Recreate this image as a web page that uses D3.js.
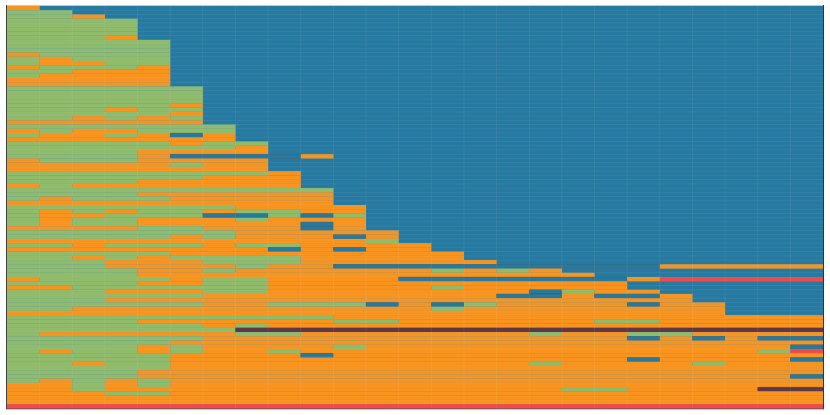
<!DOCTYPE html>
<html>
<head>
<meta charset="utf-8">
<script src="https://cdn.jsdelivr.net/npm/d3@7"></script>
<style>
  body { margin: 0; background: #fff; }
</style>
</head>
<body>
<svg id="chart" width="830" height="415"></svg>
<script>
// one letter per cell: B blue, G green, O orange, P plum, R red
// trailing blue cells are left off the strings
const columns = d3.range(25);
const stateColors = { B: '#2679a0', G: '#8fbb6a', O: '#f8941e', P: '#5e3649', R: '#f34848' };
const rowCodes = [
  "O", "GG", "GGO", "GGGG", "GGGG", "GGGG", "GGGG", "GGGO", "GGGGG", "GGGGG",
  "GGGGG", "OGGGG", "GOGGG", "GOOGG", "OGGGO", "GGOOO", "GOOOO", "OOOOO", "OOOOO", "GGGGGG",
  "GGGGGG", "GGGGGG", "GGGGGG", "GGGGGO", "GGGOGG", "GGGGGO", "GGOGOG", "OOOOOO", "GGGGGGG", "OGOOGGG",
  "GOOGOBO", "OOOOOOO", "GGGGGOGG", "GGGGGGGO", "GGGGOOOO", "GGGGOBBBBO", "OGGGOOOO", "OOOOOGOO", "OOOOOOOO", "GGGGGGGGO",
  "GGGGGGOOO", "GGGGOOOOO", "OGOOOOOOO", "GGGGGGGGGG", "GGGGOOOOOO", "GOGGGOOOOO", "OOOOOOOOOO", "GGGGGGGOOOO", "GOGOGGOGGOO", "GOOGGGBBGBG",
  "GOGGOOOGOOO", "GOGGOOOOOBO", "OOOOGGOOOBO", "GGGGGGGOOOOO", "GGGGGOGOOOBO", "OOOOOOOOOOOG", "GGOGGGOGGOOOO", "OOOOOOOOBOBOO", "GGGGGOOOOOOOOO", "GGOGOGGGGOOOOO",
  "GGGOOOGGGOOOOOO", "GGGOOOOGOOBBBBBBBBBBOOOOO", "GGGGOOGOOOOOOGOGO", "GGGGOOOOOOOOOOOOOO", "OGGGGOGGOOOOBBBBBBBORRRRR", "GGGGOOGGOOOOOOOOOOO", "OOGGGGGGOOOOOGOOOOO", "GGGOOOGGOOOOOOOOBGOO", "GGGGGGOOOOOOOOOBBOBBO", "GGGOOOOOOOOOOOOOOOOOO",
  "GGGGGGOOGGGBOBGOOOOBOO", "GGOOOOOOOOOOOGOOOOOOOO", "OOOOOOOOOOOOOOOOOOOOOO", "GGGGGGGGGGOOOOOOOOOOOOOOO", "GGGGOOOOOOGGOOOOOOGGOOOOO", "GGGGGGOGOOOOOOOOOOOOOOOOO", "GGGGGGGPPPPPPPPPPPPPPPPPP", "GOOOOOOGGOOOOOOOGOOGGOOOO", "GGGGGGOOOOOOOOOOOOOBOBOBB", "GGGGGOOOOOOOOOOOOOOOOOOOO",
  "GGGGOGOOOOGOOOOOOOOOOOOOB", "GOGGOGOOGOOOOOOOOOOOOOOGR", "GGGGGOOOOBOOOOOOOOOOOOOOO", "GGGGGOOOOOOOOOOOOOOBOOOOB", "GGOGGOOOOOOOOOOOGOOOOGOOO", "GGGGGOOOOOOOOOOOOOOOOOOOO", "GGGGOOOOOOOOOOOOOOOOOOOOO", "GGGGOOOOOOOOOOOOOOOOOOOOB", "GOGOGOOOOOOOOOOOOOOOOOOOO", "OOGOGOOOOOOOOOOOOOOOOOOOO",
  "OOGOOOOOOOOOOOOOOGGOOOOPP", "OOOGGOOOOOOOOOOOOOOOOOOOO", "OOOOOOOOOOOOOOOOOOOOOOOOO", "OOOOOOOOOOOOOOOOOOOOOOOOO", "RRRRRRRRRRRRRRRRRRRRRRRRR"
];

const svg = d3.select('#chart');
const x = d3.scaleBand().domain(columns).range([7, 823]);
const y = d3.scaleBand().domain(d3.range(rowCodes.length)).range([6, 408.3]);

// plot background is the blue state
svg.append('rect')
   .attr('x', 7).attr('y', 6)
   .attr('width', 816).attr('height', 402.3)
   .attr('fill', stateColors.B);

// split each row into runs of the same state, dropping the trailing blue run
let runs = [];
rowCodes.forEach((code, r) => {
    let start = 0;
    for (let c = 1; c <= code.length; c++) {
        if (c === code.length || code[c] !== code[start]) {
            runs.push({ row: r, from: start, to: c - 1, state: code[start] });
            start = c;
        }
    }
});

svg.append('g')
   .selectAll('rect')
   .data(runs)
   .enter()
   .append('rect')
   .attr('x', d => x(d.from))
   .attr('y', d => y(d.row))
   .attr('width', d => x(d.to) + x.bandwidth() - x(d.from))
   .attr('height', y.bandwidth())
   .attr('fill', d => stateColors[d.state])
   .attr('stroke', d => (d.state === 'B' || d.state === 'P') ? 'rgba(40,40,40,0.35)' : 'none')
   .attr('stroke-width', 0.6);

// faint white grid on every cell edge
let grid = svg.append('g').attr('stroke', '#ffffff').attr('stroke-opacity', 0.07).attr('stroke-width', 1);
grid.selectAll('line.v')
    .data(columns.slice(1))
    .enter().append('line')
    .attr('class', 'v')
    .attr('x1', d => x(d)).attr('x2', d => x(d))
    .attr('y1', 6).attr('y2', 408.3);
grid.selectAll('line.h')
    .data(d3.range(1, rowCodes.length))
    .enter().append('line')
    .attr('class', 'h')
    .attr('x1', 7).attr('x2', 823)
    .attr('y1', d => y(d)).attr('y2', d => y(d));

// frame
svg.append('line').attr('x1', 6.5).attr('x2', 823.5).attr('y1', 5.5).attr('y2', 5.5).attr('stroke', '#c8c8c8');
svg.append('line').attr('x1', 6.5).attr('x2', 6.5).attr('y1', 5).attr('y2', 409.5).attr('stroke', '#444');
svg.append('line').attr('x1', 823.5).attr('x2', 823.5).attr('y1', 5).attr('y2', 409.5).attr('stroke', '#333');
svg.append('line').attr('x1', 6).attr('x2', 824).attr('y1', 408.8).attr('y2', 408.8).attr('stroke', '#7a2b2b');
svg.append('line').attr('x1', 6).attr('x2', 824).attr('y1', 409.8).attr('y2', 409.8).attr('stroke', '#cfcfcf');
</script>
</body>
</html>
